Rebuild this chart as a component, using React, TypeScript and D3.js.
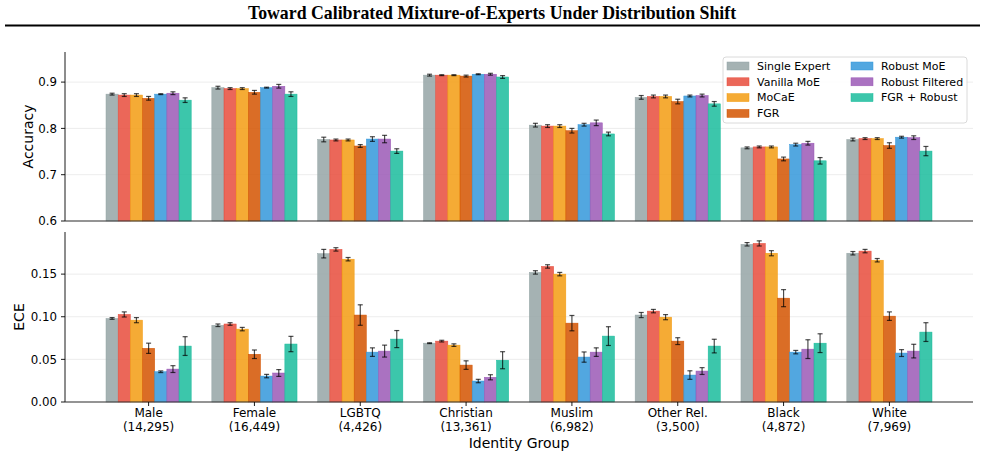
import React from 'react';
import * as d3 from 'd3';

const groups = ['Male', 'Female', 'LGBTQ', 'Christian', 'Muslim', 'Other Rel.', 'Black', 'White'];
const groupSizes = ['(14,295)', '(16,449)', '(4,426)', '(13,361)', '(6,982)', '(3,500)', '(4,872)', '(7,969)'];

const methods = ['Single Expert', 'Vanilla MoE', 'MoCaE', 'FGR', 'Robust MoE', 'Robust Filtered', 'FGR + Robust'];
const colors = ['#95a5a6', '#e74c3c', '#f39c12', '#d35400', '#3498db', '#9b59b6', '#1abc9c'];

// accuracy[method][group]
const accuracy = [
  [0.874, 0.888, 0.776, 0.915, 0.807, 0.867, 0.758, 0.776],
  [0.872, 0.886, 0.775, 0.915, 0.805, 0.869, 0.760, 0.778],
  [0.872, 0.886, 0.775, 0.915, 0.805, 0.869, 0.760, 0.778],
  [0.865, 0.878, 0.762, 0.913, 0.795, 0.858, 0.734, 0.763],
  [0.874, 0.888, 0.777, 0.917, 0.808, 0.870, 0.765, 0.781],
  [0.876, 0.891, 0.777, 0.917, 0.812, 0.871, 0.768, 0.780],
  [0.861, 0.874, 0.751, 0.911, 0.788, 0.853, 0.730, 0.751],
];
const accuracyErr = [
  [0.002, 0.003, 0.005, 0.002, 0.004, 0.004, 0.002, 0.003],
  [0.003, 0.002, 0.002, 0.001, 0.003, 0.003, 0.002, 0.002],
  [0.003, 0.002, 0.002, 0.001, 0.003, 0.003, 0.002, 0.002],
  [0.004, 0.004, 0.003, 0.002, 0.005, 0.005, 0.004, 0.006],
  [0.001, 0.001, 0.005, 0.001, 0.003, 0.002, 0.003, 0.002],
  [0.003, 0.004, 0.008, 0.002, 0.006, 0.003, 0.004, 0.004],
  [0.005, 0.005, 0.005, 0.003, 0.004, 0.005, 0.007, 0.010],
];

const ece = [
  [0.098, 0.090, 0.174, 0.069, 0.152, 0.102, 0.185, 0.1745],
  [0.1027, 0.0915, 0.179, 0.0714, 0.159, 0.1066, 0.186, 0.177],
  [0.096, 0.0855, 0.1675, 0.0667, 0.150, 0.0995, 0.1745, 0.1663],
  [0.063, 0.056, 0.102, 0.0433, 0.0925, 0.0714, 0.1218, 0.1007],
  [0.0355, 0.0304, 0.0585, 0.0246, 0.0527, 0.0316, 0.0585, 0.0574],
  [0.0386, 0.034, 0.0597, 0.029, 0.0585, 0.0363, 0.062, 0.0597],
  [0.0656, 0.068, 0.0738, 0.049, 0.0773, 0.0656, 0.069, 0.082],
];
const eceErr = [
  [0.001, 0.0015, 0.005, 0.0005, 0.002, 0.003, 0.002, 0.002],
  [0.003, 0.0015, 0.002, 0.001, 0.002, 0.002, 0.003, 0.002],
  [0.003, 0.002, 0.002, 0.0015, 0.002, 0.003, 0.003, 0.002],
  [0.006, 0.005, 0.012, 0.005, 0.009, 0.004, 0.010, 0.005],
  [0.001, 0.002, 0.005, 0.002, 0.006, 0.005, 0.002, 0.004],
  [0.004, 0.004, 0.007, 0.003, 0.005, 0.004, 0.011, 0.008],
  [0.011, 0.009, 0.010, 0.010, 0.011, 0.008, 0.011, 0.011],
];

const accTicks = [0.6, 0.7, 0.8, 0.9];
const eceTicks = [0.0, 0.05, 0.1, 0.15];

const W = 985;
const H = 467;
const FONT = 'DejaVu Sans, sans-serif';
const left = 65;
const right = 973;
const barW = 0.115;

const x = d3.scaleLinear().domain([-0.79, 7.79]).range([left, right]);

type PanelProps = {
  values: number[][];
  errors: number[][];
  y: d3.ScaleLinear<number, number>;
  ticks: number[];
  fmt: (v: number) => string;
  label: string;
  labelX: number;
  showX: boolean;
};

function Panel({ values, errors, y, ticks, fmt, label, labelX, showX }: PanelProps) {
  const [y0, y1] = y.range();
  const pw = x(barW) - x(0);
  return (
    <g>
      {ticks.map((t) => (
        <line key={'g' + t} x1={left} x2={right} y1={y(t)} y2={y(t)} stroke="#b0b0b0" strokeOpacity={0.3} strokeWidth={0.8} />
      ))}
      {values.map((row, m) =>
        row.map((v, g) => {
          const cx = x(g + (m - 3) * barW);
          return (
            <rect key={`b${m}-${g}`} x={cx - pw / 2} y={y(v)} width={pw} height={y0 - y(v)}
              fill={colors[m]} fillOpacity={0.85} stroke={colors[m]} strokeWidth={0.5} />
          );
        })
      )}
      {values.map((row, m) =>
        row.map((v, g) => {
          const cx = x(g + (m - 3) * barW);
          const e = errors[m][g];
          const ya = y(v + e);
          const yb = y(v - e);
          return (
            <g key={`e${m}-${g}`} stroke="#000" strokeOpacity={0.7} strokeWidth={1.2}>
              <line x1={cx} x2={cx} y1={ya} y2={yb} />
              <line x1={cx - 2.5} x2={cx + 2.5} y1={ya} y2={ya} />
              <line x1={cx - 2.5} x2={cx + 2.5} y1={yb} y2={yb} />
            </g>
          );
        })
      )}
      <line x1={left} x2={left} y1={y1} y2={y0} stroke="#000" strokeWidth={0.9} />
      <line x1={left} x2={right} y1={y0} y2={y0} stroke="#333" strokeWidth={1.2} />
      {ticks.map((t) => (
        <g key={'t' + t}>
          <line x1={left - 4} x2={left} y1={y(t)} y2={y(t)} stroke="#000" strokeWidth={0.9} />
          <text x={left - 8} y={y(t)} dy="0.35em" textAnchor="end" fontSize={11.8} fontFamily={FONT}>{fmt(t)}</text>
        </g>
      ))}
      <text transform={`translate(${labelX},${(y0 + y1) / 2}) rotate(-90)`} textAnchor="middle" fontSize={14} fontFamily={FONT}>{label}</text>
      {showX && groups.map((name, g) => (
        <g key={'x' + g}>
          <line x1={x(g)} x2={x(g)} y1={y0} y2={y0 + 4} stroke="#000" strokeWidth={0.9} />
          <text x={x(g)} y={y0 + 15} textAnchor="middle" fontSize={12} fontFamily={FONT}>{name}</text>
          <text x={x(g)} y={y0 + 29} textAnchor="middle" fontSize={12} fontFamily={FONT}>{groupSizes[g]}</text>
        </g>
      ))}
    </g>
  );
}

function Legend() {
  const lx = 723;
  const ly = 57;
  return (
    <g fontFamily={FONT} fontSize={11}>
      <rect x={lx} y={ly} width={244} height={66} rx={3} fill="#fff" fillOpacity={0.85} stroke="#d0d0d0" strokeWidth={0.8} />
      {methods.map((m, i) => {
        const col = i < 4 ? 0 : 1;
        const row = i < 4 ? i : i - 4;
        const px = lx + 4 + col * 124;
        const py = ly + 9 + row * 15.8;
        return (
          <g key={m}>
            <rect x={px} y={py - 4} width={22} height={8} fill={colors[i]} fillOpacity={0.85} stroke={colors[i]} strokeWidth={0.5} />
            <text x={px + 30} y={py} dy="0.35em">{m}</text>
          </g>
        );
      })}
    </g>
  );
}

export default function App() {
  const yAcc = d3.scaleLinear().domain([0.6, 0.965]).range([221, 52]);
  const yEce = d3.scaleLinear().domain([0, 0.1994]).range([402, 232]);
  return (
    <svg width={W} height={H} style={{ position: 'absolute', left: 0, top: 0, background: '#fff' }}>
      <text x={492} y={19} textAnchor="middle" fontFamily="Liberation Serif, Times New Roman, serif" fontWeight="bold" fontSize={17.8}>
        Toward Calibrated Mixture-of-Experts Under Distribution Shift
      </text>
      <line x1={5} x2={980} y1={25.5} y2={25.5} stroke="#000" strokeWidth={2} />
      <Panel values={accuracy} errors={accuracyErr} y={yAcc} ticks={accTicks} fmt={d3.format('.1f')} label="Accuracy" labelX={33} showX={false} />
      <Legend />
      <Panel values={ece} errors={eceErr} y={yEce} ticks={eceTicks} fmt={d3.format('.2f')} label="ECE" labelX={24} showX={true} />
      <text x={(left + right) / 2} y={448} textAnchor="middle" fontSize={14} fontFamily={FONT}>Identity Group</text>
    </svg>
  );
}
